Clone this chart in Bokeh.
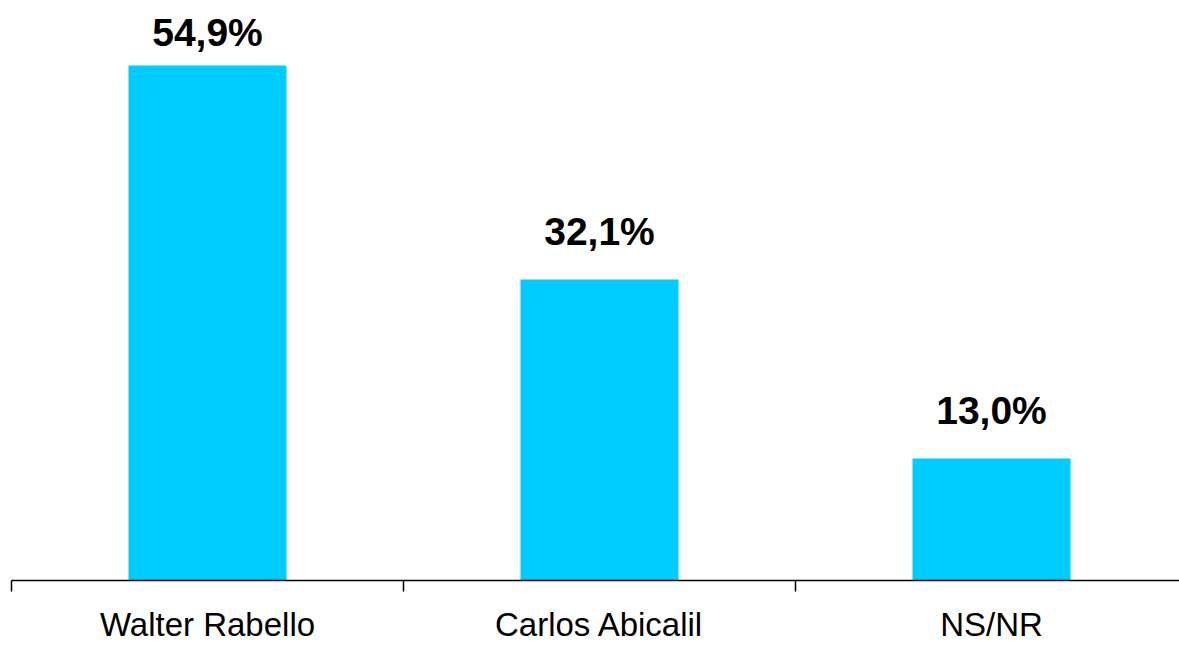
from bokeh.plotting import figure
from bokeh.models import Range1d, FixedTicker, ColumnDataSource
from bokeh.core.properties import value
from bokeh.embed import file_html
from bokeh.resources import INLINE

categories = ["Walter Rabello", "Carlos Abicalil", "NS/NR"]
values = [54.9, 32.1, 13.0]
labels = ["54,9%", "32,1%", "13,0%"]

W, H = 1179, 645
frame_left = 11
frame_bottom_border = 65
frame_h = H - frame_bottom_border
cat_px = 392.0
px_per_unit = 515.0 / 54.9

x_end = (W - frame_left) / cat_px
y_end = frame_h / px_per_unit

xs = [i + 0.5 for i in range(len(categories))]
label_gap_px = 33
max_label_y = (frame_h - 47) / px_per_unit
label_y = [min(v + label_gap_px / px_per_unit, max_label_y) for v in values]

src = ColumnDataSource(dict(x=xs, top=values, ly=label_y, lab=labels))

p = figure(width=W, height=H, output_backend="svg", toolbar_location=None,
           x_range=Range1d(0, x_end), y_range=Range1d(0, y_end),
           min_border_left=frame_left, min_border_right=0, min_border_top=0,
           min_border_bottom=frame_bottom_border, y_axis_location=None)
p.outline_line_color = None
p.xgrid.visible = False
p.ygrid.visible = False
p.background_fill_color = "white"
p.border_fill_color = "white"

p.vbar(x="x", top="top", width=0.403, bottom=0, source=src,
       fill_color="#00CCFF", line_color=None)
p.text(x="x", y="ly", text="lab", source=src, text_align="center",
       text_baseline="alphabetic", y_offset=-15,
       text_font=value("Liberation Sans"),
       text_font_style="bold", text_font_size="39px", text_color="black")

ax = p.xaxis[0]
ax.ticker = FixedTicker(ticks=xs, minor_ticks=list(range(len(categories) + 1)))
ax.major_label_overrides = {x: c for x, c in zip(xs, categories)}
ax.major_tick_out = 0
ax.major_tick_in = 0
ax.minor_tick_out = 11
ax.minor_tick_in = 0
ax.minor_tick_line_color = "black"
ax.minor_tick_line_width = 1.5
ax.axis_line_color = "black"
ax.axis_line_width = 1.5
ax.major_label_standoff = 14
ax.major_label_text_font = "Liberation Sans"
ax.major_label_text_font_size = "33px"
ax.major_label_text_color = "black"

open("out.html", "w").write(file_html(p, INLINE))
